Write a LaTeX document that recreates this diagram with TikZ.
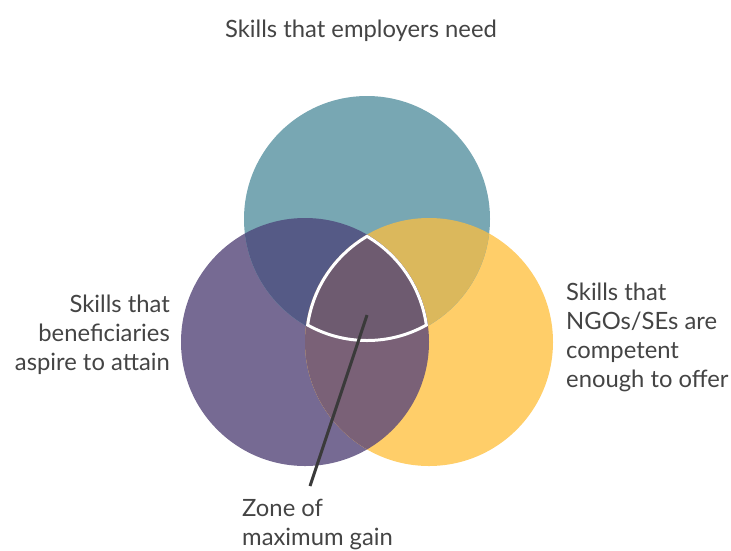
\documentclass[tikz,border=0pt]{standalone}
\usepackage{fontspec}
\setmainfont{Lato}
\definecolor{ctop}{RGB}{120,167,179}
\definecolor{cleft}{RGB}{118,106,147}
\definecolor{cright}{RGB}{255,206,105}
\definecolor{ctl}{RGB}{85,90,134}
\definecolor{ctr}{RGB}{219,184,92}
\definecolor{clr}{RGB}{122,97,119}
\definecolor{cmid}{RGB}{110,91,112}
\definecolor{txt}{RGB}{68,68,68}
\tikzset{
  lbl/.style={inner sep=0pt, text=txt, font=\fontsize{23.8}{29}\selectfont},
  pointer/.style={draw={rgb,255:red,58;green,58;blue,58}, line width=3pt}
}
\begin{document}
\begin{tikzpicture}[x=1pt,y=-1pt]
\useasboundingbox (0,0) rectangle (731,550);
\coordinate (T) at (367,219);
\coordinate (L) at (305,342);
\coordinate (R) at (429,342);
\def\rT{123pt}\def\rL{124pt}\def\rR{124pt}
% base circles
\fill[cleft] (L) circle[radius=\rL];
\fill[cright] (R) circle[radius=\rR];
\fill[ctop] (T) circle[radius=\rT];
% pairwise overlaps
\begin{scope}
  \clip (T) circle[radius=\rT];
  \fill[ctl] (L) circle[radius=\rL];
  \fill[ctr] (R) circle[radius=\rR];
\end{scope}
\begin{scope}
  \clip (L) circle[radius=\rL];
  \fill[clr] (R) circle[radius=\rR];
\end{scope}
% centre zone
\begin{scope}
  \clip (T) circle[radius=\rT];
  \clip (L) circle[radius=\rL];
  \clip (R) circle[radius=\rR];
  \fill[cmid] (T) circle[radius=\rT];
  \draw[white, line width=6pt] (T) circle[radius=\rT] (L) circle[radius=\rL] (R) circle[radius=\rR];
\end{scope}
% labels (base anchor = baseline of last line)
\node[lbl, anchor=base] (top) at (361,37) {Skills that employers need};
\node[lbl, anchor=base east, align=right] (left) at (170,370) {Skills that\\beneficiaries\\aspire to attain};
\node[lbl, anchor=base west, align=left] (right) at (566,387) {Skills that\\NGOs/SEs are\\competent\\enough to offer};
\node[lbl, anchor=base west, align=left] (zone) at (242,545) {Zone of\\maximum gain};
\coordinate (zp) at (367,315);
\coordinate (ze) at (310,486);
\draw[pointer] (zp) -- (ze);
\end{tikzpicture}
\end{document}
